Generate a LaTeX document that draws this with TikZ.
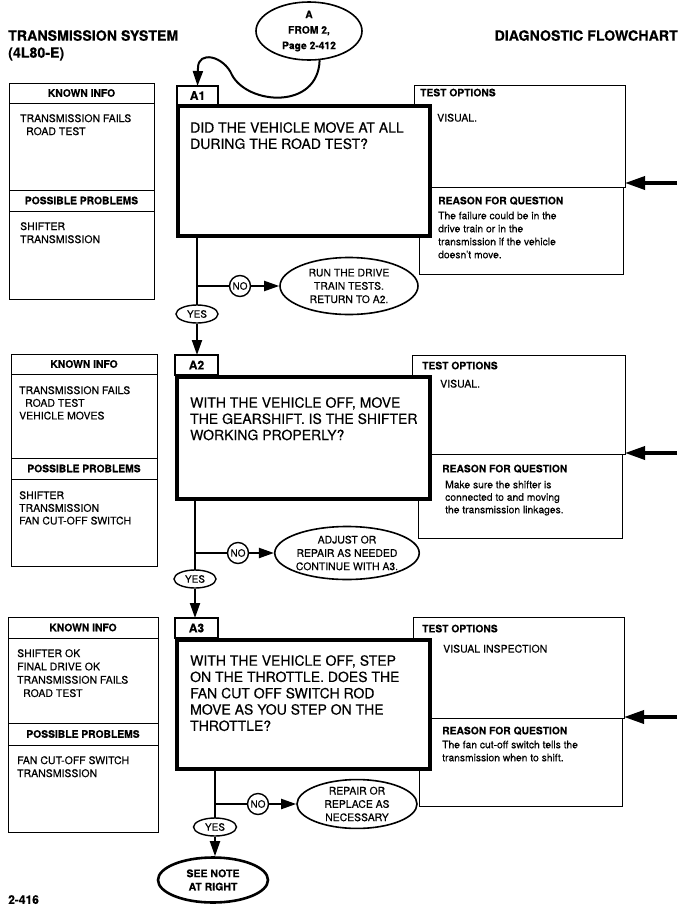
\documentclass[tikz,border=0pt]{standalone}
\usepackage{fontspec}
\setmainfont{TeX Gyre Heros}[FakeBold=0.35]
\usetikzlibrary{shapes.geometric,arrows.meta}
\begin{document}
\begin{tikzpicture}[x=1pt,y=-1pt,
  box/.style={draw, line width=1pt, inner sep=0pt, outer sep=0pt, anchor=north west},
  hdrbox/.style={box, font=\fontsize{10.3}{12}\selectfont\bfseries},
  tabbox/.style={box, line width=1.2pt, font=\fontsize{12}{14}\selectfont\bfseries},
  qbox/.style={draw, fill=white, line width=4.5pt, inner sep=0pt, outer sep=0pt, anchor=north west},
  txt/.style={anchor=north west, inner sep=0pt, align=left, font=\fontsize{10.5}{13}\selectfont},
  btxt/.style={anchor=north west, inner sep=0pt, align=left, font=\fontsize{10.3}{13}\selectfont\bfseries},
  qtxt/.style={anchor=north west, inner sep=0pt, align=left, font=\fontsize{14}{16.2}\selectfont},
  oval/.style={draw, fill=white, ellipse, line width=1.6pt, inner sep=0pt, align=center, font=\fontsize{10.4}{13.3}\selectfont},
  yesov/.style={draw, fill=white, ellipse, line width=1.4pt, inner sep=0pt, minimum width=42pt, minimum height=18pt, font=\fontsize{10}{11}\selectfont},
  nocirc/.style={draw, fill=white, circle, line width=1.4pt, inner sep=0pt, minimum size=21pt, font=\fontsize{10}{11}\selectfont},
  conn/.style={line width=2pt},
  arr/.style={-{Triangle[length=15pt,width=10pt]}},
  bigarr/.style={line width=3.5pt, -{Triangle[length=20pt,width=13pt]}}
]
\useasboundingbox (0,0) rectangle (692,916);

% ---------- header ----------
\node[btxt, font=\fontsize{14.2}{17}\selectfont\bfseries] (title) at (8,30) {TRANSMISSION SYSTEM\\(4L80-E)};
\node[anchor=north east, inner sep=0pt, font=\fontsize{14.2}{17}\selectfont\bfseries] (dflow) at (678,30) {DIAGNOSTIC FLOWCHART};
\node[oval, font=\fontsize{10.3}{15.5}\selectfont\bfseries, minimum width=106pt, minimum height=58pt] (fromA) at (309,31) {A\\FROM 2,\\Page 2-412};
\node[btxt, font=\fontsize{12}{14}\selectfont\bfseries] (pageno) at (8,895) {2-416};

% ---------- block A1 ----------
\node[hdrbox, minimum width=145pt, minimum height=20pt] (kh1) at (9,83) {KNOWN INFO};
\node[box, minimum width=145pt, minimum height=87pt] (kb1) at (9,103) {};
\node[hdrbox, minimum width=145pt, minimum height=21pt] (ph1) at (9,190) {POSSIBLE PROBLEMS};
\node[box, minimum width=145pt, minimum height=88pt] (pb1) at (9,211) {};
\node[txt] (kt1) at (20,114) {TRANSMISSION FAILS\\\hspace*{6pt}ROAD TEST};
\node[txt] (pt1) at (20,222) {SHIFTER\\TRANSMISSION};

\node[box, minimum width=211pt, minimum height=102pt] (t1) at (414,85) {};
\node[box, minimum width=204pt, minimum height=87pt] (r1) at (419,187) {};
\node[btxt] (to1) at (420,88.5) {TEST OPTIONS};
\node[txt] (tv1) at (437,113.5) {VISUAL.};
\node[btxt] (rr1) at (438,196.5) {REASON FOR QUESTION};
\node[txt, font=\fontsize{10.3}{13}\selectfont] (rb1) at (438,211.5) {The failure could be in the\\drive train or in the\\transmission if the vehicle\\doesn't move.};

\node[tabbox, minimum width=41pt, minimum height=19pt] (tab1) at (177,86) {A1};
\node[qbox, minimum width=252pt, minimum height=130pt] (q1) at (178,106) {};
\node[qtxt] (q1t) at (190,122) {DID THE VEHICLE MOVE AT ALL\\DURING THE ROAD TEST?};

\coordinate (br1) at (197,286);
\draw[conn] (q1.south -| br1) -- (br1 |- 0,305);
\draw[conn] (br1) -- (240,286);
\node[nocirc] (no1) at (240,286) {NO};
\node[oval, minimum width=138pt, minimum height=57pt] (o1) at (349,286) {RUN THE DRIVE\\TRAIN TESTS.\\RETURN TO A2.};
\node[yesov] (yes1) at (197,314) {YES};
\draw[conn, arr] (no1.east) -- (o1.west);

\coordinate (ra1) at (677,183);
\draw[bigarr] (ra1) -- (ra1 -| t1.east);

% curved connector from A
\draw[conn, arr] (fromA.290) .. controls (318,110) and (248,105) .. (232,75)
   .. controls (224,56) and (198,50) .. (198,68) -- (tab1.north);

% ---------- block A2 ----------
\node[hdrbox, minimum width=146pt, minimum height=20pt] (kh2) at (11,354) {KNOWN INFO};
\node[box, minimum width=146pt, minimum height=84pt] (kb2) at (11,374) {};
\node[hdrbox, minimum width=146pt, minimum height=21pt] (ph2) at (11,458) {POSSIBLE PROBLEMS};
\node[box, minimum width=146pt, minimum height=87pt] (pb2) at (11,479) {};
\node[txt, font=\fontsize{10.5}{12.7}\selectfont] (kt2) at (19,386) {TRANSMISSION FAILS\\\hspace*{6pt}ROAD TEST\\VEHICLE MOVES};
\node[txt, font=\fontsize{10.5}{12.7}\selectfont] (pt2) at (19,491) {SHIFTER\\TRANSMISSION\\FAN CUT-OFF SWITCH};

\node[box, minimum width=213pt, minimum height=99pt] (t2) at (412,355) {};
\node[box, minimum width=204pt, minimum height=84pt] (r2) at (418,454) {};
\node[btxt] (to2) at (422,361.5) {TEST OPTIONS};
\node[txt] (tv2) at (440,379.5) {VISUAL.};
\node[btxt] (rr2) at (442,464.5) {REASON FOR QUESTION};
\node[txt, font=\fontsize{10.3}{12.5}\selectfont] (rb2) at (445,480.5) {Make sure the shifter is\\connected to and moving\\the transmission linkages.};

\node[tabbox, minimum width=43pt, minimum height=20pt] (tab2) at (175,355) {A2};
\node[qbox, minimum width=253pt, minimum height=122pt] (q2) at (177,377) {};
\node[qtxt] (q2t) at (190,397) {WITH THE VEHICLE OFF, MOVE\\THE GEARSHIFT. IS THE SHIFTER\\WORKING PROPERLY?};

\draw[conn, arr] (yes1.south) -- (yes1.south |- tab2.north);

\coordinate (br2) at (195,553);
\draw[conn] (q2.south -| br2) -- (br2 |- 0,571);
\draw[conn] (br2) -- (238,553);
\node[nocirc] (no2) at (238,553) {NO};
\node[oval, minimum width=133pt, minimum height=53pt] (o2) at (347,553) {ADJUST OR\\REPAIR AS NEEDED\\CONTINUE WITH A3.};
\node[yesov] (yes2) at (195,579) {YES};
\draw[conn, arr] (no2.east) -- (o2.west);

\coordinate (ra2) at (677,453);
\draw[bigarr] (ra2) -- (ra2 -| t2.east);

% ---------- block A3 ----------
\node[hdrbox, minimum width=150pt, minimum height=21pt] (kh3) at (8,617) {KNOWN INFO};
\node[box, minimum width=150pt, minimum height=85pt] (kb3) at (8,638) {};
\node[hdrbox, minimum width=150pt, minimum height=22pt] (ph3) at (8,723) {POSSIBLE PROBLEMS};
\node[box, minimum width=150pt, minimum height=87pt] (pb3) at (8,745) {};
\node[txt, font=\fontsize{10.5}{13.3}\selectfont] (kt3) at (17,649) {SHIFTER OK\\FINAL DRIVE OK\\TRANSMISSION FAILS\\\hspace*{6pt}ROAD TEST};
\node[txt, font=\fontsize{10.5}{13}\selectfont] (pt3) at (17,756) {FAN CUT-OFF SWITCH\\TRANSMISSION};

\node[box, minimum width=211pt, minimum height=101pt] (t3) at (413,617) {};
\node[box, minimum width=203pt, minimum height=88pt] (r3) at (419,718) {};
\node[btxt] (to3) at (422,624.5) {TEST OPTIONS};
\node[txt] (tv3) at (443,644.5) {VISUAL INSPECTION};
\node[btxt] (rr3) at (442,726.5) {REASON FOR QUESTION};
\node[txt, font=\fontsize{10.3}{13}\selectfont] (rb3) at (442,740.5) {The fan cut-off switch tells the\\transmission when to shift.};

\node[tabbox, minimum width=43pt, minimum height=20pt] (tab3) at (175,618) {A3};
\node[qbox, minimum width=253pt, minimum height=129pt] (q3) at (177,640) {};
\node[qtxt, font=\fontsize{14}{16.3}\selectfont] (q3t) at (190,655) {WITH THE VEHICLE OFF, STEP\\ON THE THROTTLE. DOES THE\\FAN CUT OFF SWITCH ROD\\MOVE AS YOU STEP ON THE\\THROTTLE?};

\draw[conn, arr] (yes2.south) -- (yes2.south |- tab3.north);

\coordinate (br3) at (215,804);
\draw[conn] (q3.south -| br3) -- (br3 |- 0,820);
\draw[conn] (br3) -- (258,804);
\node[nocirc] (no3) at (258,804) {NO};
\node[oval, minimum width=120pt, minimum height=46pt] (o3) at (357,804) {REPAIR OR\\REPLACE AS\\NECESSARY};
\node[yesov, minimum width=43pt] (yes3) at (215,827) {YES};
\node[oval, line width=2.6pt, minimum width=110pt, minimum height=45pt, font=\fontsize{10.5}{13.3}\selectfont\bfseries] (fin) at (213,880) {SEE NOTE\\AT RIGHT};
\draw[conn, arr] (no3.east) -- (o3.west);
\draw[conn, arr] (yes3.south) -- (yes3.south |- fin.north);

\coordinate (ra3) at (677,717);
\draw[bigarr] (ra3) -- (ra3 -| t3.east);
\end{tikzpicture}
\end{document}
